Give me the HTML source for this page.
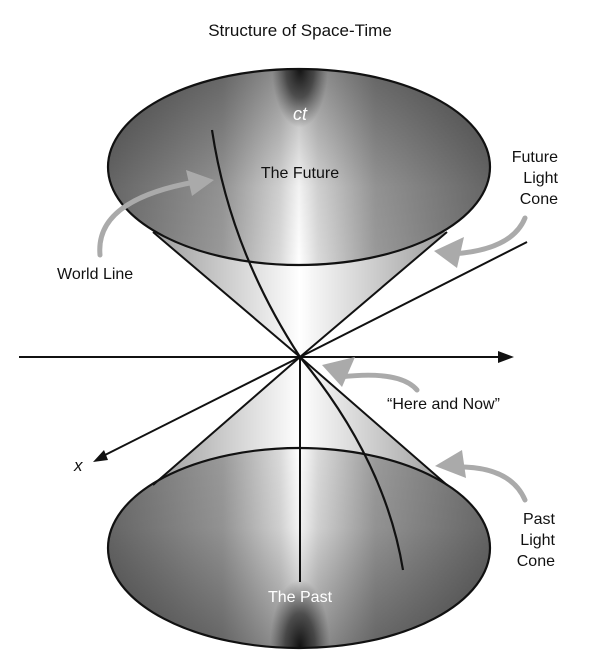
<!DOCTYPE html>
<html><head><meta charset="utf-8"><style>
html,body{margin:0;padding:0;background:#fff}
svg{display:block}
text{font-family:"Liberation Sans",Arial,sans-serif}
</style></head><body>
<svg width="600" height="664" viewBox="0 0 600 664" xmlns="http://www.w3.org/2000/svg">
<defs>
<linearGradient id="face" x1="108" y1="0" x2="490" y2="0" gradientUnits="userSpaceOnUse">
<stop offset="0" stop-color="#6a6a6a"/>
<stop offset="0.3" stop-color="#9a9a9a"/>
<stop offset="0.45" stop-color="#dadada"/>
<stop offset="0.5" stop-color="#ffffff"/>
<stop offset="0.55" stop-color="#dadada"/>
<stop offset="0.7" stop-color="#9a9a9a"/>
<stop offset="1" stop-color="#6a6a6a"/>
</linearGradient>
<linearGradient id="vT" x1="0" y1="69" x2="0" y2="265" gradientUnits="userSpaceOnUse">
<stop offset="0" stop-color="#000" stop-opacity="0.35"/>
<stop offset="0.6" stop-color="#000" stop-opacity="0.05"/>
<stop offset="1" stop-color="#000" stop-opacity="0"/>
</linearGradient>
<linearGradient id="vB" x1="0" y1="648" x2="0" y2="448" gradientUnits="userSpaceOnUse">
<stop offset="0" stop-color="#000" stop-opacity="0.35"/>
<stop offset="0.6" stop-color="#000" stop-opacity="0.05"/>
<stop offset="1" stop-color="#000" stop-opacity="0"/>
</linearGradient>
<linearGradient id="body" x1="150" y1="0" x2="450" y2="0" gradientUnits="userSpaceOnUse">
<stop offset="0" stop-color="#9a9a9a"/>
<stop offset="0.45" stop-color="#f4f4f4"/>
<stop offset="0.5" stop-color="#ffffff"/>
<stop offset="0.55" stop-color="#f4f4f4"/>
<stop offset="1" stop-color="#9a9a9a"/>
</linearGradient>
<radialGradient id="darkT" cx="300" cy="68" r="70" gradientUnits="userSpaceOnUse" gradientTransform="translate(300 68) scale(0.4 0.85) translate(-300 -68)">
<stop offset="0" stop-color="#111" stop-opacity="1"/>
<stop offset="0.5" stop-color="#222" stop-opacity="0.7"/>
<stop offset="1" stop-color="#333" stop-opacity="0"/>
</radialGradient>
<radialGradient id="darkB" cx="300" cy="647" r="75" gradientUnits="userSpaceOnUse" gradientTransform="translate(300 647) scale(0.4 0.9) translate(-300 -647)">
<stop offset="0" stop-color="#111" stop-opacity="1"/>
<stop offset="0.5" stop-color="#222" stop-opacity="0.7"/>
<stop offset="1" stop-color="#333" stop-opacity="0"/>
</radialGradient>
<clipPath id="ct"><ellipse cx="299" cy="167" rx="191" ry="98"/></clipPath>
<clipPath id="cb"><ellipse cx="299" cy="548" rx="191" ry="100"/></clipPath>
</defs>

<text x="300" y="36" font-size="17" text-anchor="middle" fill="#111">Structure of Space-Time</text>

<!-- bottom cone -->
<polygon points="300,357 153,485 447,485" fill="url(#body)"/>
<ellipse cx="299" cy="548" rx="191" ry="100" fill="url(#face)"/>
<ellipse cx="299" cy="548" rx="191" ry="100" fill="url(#vB)"/>
<rect x="100" y="540" width="400" height="120" fill="url(#darkB)" clip-path="url(#cb)"/>
<ellipse cx="299" cy="548" rx="191" ry="100" fill="none" stroke="#111" stroke-width="2.2"/>
<line x1="300" y1="357" x2="153" y2="485" stroke="#111" stroke-width="2"/>
<line x1="300" y1="357" x2="447" y2="485" stroke="#111" stroke-width="2"/>

<!-- top cone -->
<polygon points="300,357 153,232 447,232" fill="url(#body)"/>
<ellipse cx="299" cy="167" rx="191" ry="98" fill="url(#face)"/>
<ellipse cx="299" cy="167" rx="191" ry="98" fill="url(#vT)"/>
<rect x="100" y="60" width="400" height="80" fill="url(#darkT)" clip-path="url(#ct)"/>
<ellipse cx="299" cy="167" rx="191" ry="98" fill="none" stroke="#111" stroke-width="2.2"/>
<line x1="300" y1="357" x2="153" y2="232" stroke="#111" stroke-width="2"/>
<line x1="300" y1="357" x2="447" y2="232" stroke="#111" stroke-width="2"/>

<!-- axes -->
<line x1="300" y1="357" x2="300" y2="582" stroke="#111" stroke-width="2"/>
<line x1="19" y1="357" x2="502" y2="357" stroke="#111" stroke-width="2"/>
<polygon points="514,357 498,351 498,363" fill="#111"/>
<line x1="300" y1="357" x2="527" y2="242" stroke="#111" stroke-width="2"/>
<line x1="300" y1="357" x2="103" y2="456" stroke="#111" stroke-width="2"/>
<polygon points="93,462 104,450 108,460" fill="#111"/>

<!-- world line -->
<path d="M212,130 Q230,250 300,357 Q385,460 403,570" fill="none" stroke="#111" stroke-width="2.2"/>

<!-- gray arrows -->
<g fill="none" stroke="#aaa" stroke-width="5" stroke-linecap="round">
<path d="M100,255 Q95,200 195,182"/>
<path d="M525,218 Q512,250 452,254"/>
<path d="M417,390 Q400,370 340,377"/>
<path d="M525,500 Q510,465 452,467"/>
</g>
<g fill="#aaa">
<polygon points="214,180 186,170 192,196"/>
<polygon points="434,251 464,237 457,268"/>
<polygon points="322,365 355,357 342,387"/>
<polygon points="435,466 462,450 466,478"/>
</g>

<!-- labels -->
<text x="300" y="120" font-size="18" font-style="italic" text-anchor="middle" fill="#fff">ct</text>
<text x="300" y="178" font-size="16" text-anchor="middle" fill="#111">The Future</text>
<text x="300" y="602" font-size="16" text-anchor="middle" fill="#fff">The Past</text>
<text x="57" y="279" font-size="16" fill="#111">World Line</text>
<g font-size="16" fill="#111" text-anchor="end">
<text x="558" y="162">Future</text>
<text x="558" y="183">Light</text>
<text x="558" y="204">Cone</text>
<text x="555" y="524">Past</text>
<text x="555" y="545">Light</text>
<text x="555" y="566">Cone</text>
</g>
<text x="387" y="409" font-size="16" fill="#111">“Here and Now”</text>
<text x="74" y="471" font-size="17" font-style="italic" fill="#111">x</text>
</svg>
</body></html>
